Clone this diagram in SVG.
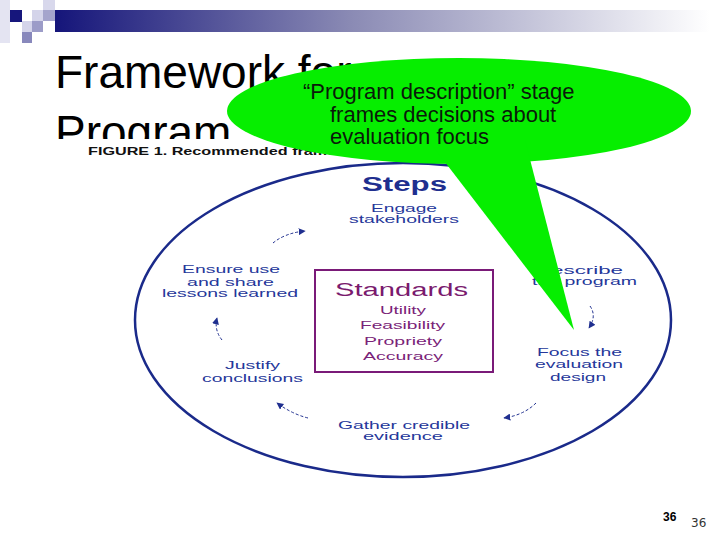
<svg xmlns="http://www.w3.org/2000/svg" width="720" height="540" viewBox="0 0 720 540">
  <style>
    .title { font-family: "Liberation Sans", Arial, sans-serif; font-size: 46px; fill: #000; }
    .cap { font-family: "Liberation Sans", Arial, sans-serif; font-size: 11px; font-weight: bold; fill: #111; }
    .step { font-family: "Liberation Sans", Arial, sans-serif; font-size: 11px; fill: #25379a; }
    .stephead { font-family: "Liberation Sans", Arial, sans-serif; font-size: 20px; font-weight: bold; fill: #1f2f8f; }
    .stdhead { font-family: "Liberation Sans", Arial, sans-serif; font-size: 18px; fill: #7a1a6e; }
    .std { font-family: "Liberation Sans", Arial, sans-serif; font-size: 11px; fill: #7a2378; }
    .call { font-family: "Liberation Sans", Arial, sans-serif; font-size: 22px; fill: #0a1a0a; }
    .conn { fill: none; stroke: #1f2f8f; stroke-width: 1; stroke-dasharray: 3 2; }
    .green { fill: #06ee00; }
  </style>
  <defs>
    <linearGradient id="bar" x1="0" y1="0" x2="1" y2="0">
      <stop offset="0" stop-color="#15157a"/>
      <stop offset="0.45" stop-color="#8a8ab4"/>
      <stop offset="1" stop-color="#ffffff"/>
    </linearGradient>
    <marker id="ah" viewBox="0 0 10 10" refX="9" refY="5" markerWidth="7" markerHeight="7" markerUnits="userSpaceOnUse" orient="auto">
      <path d="M0,0 L10,5 L0,10 Z" fill="#1f2f8f"/>
    </marker>
  </defs>
  <rect width="720" height="540" fill="#ffffff"/>

  <g id="header">
    <rect x="0" y="0" width="10" height="43" fill="#e4e4f2"/>
    <rect x="10" y="10" width="12" height="12" fill="#16167c"/>
    <rect x="32" y="10" width="11" height="11" fill="#d4d4ea"/>
    <rect x="43" y="0" width="12" height="10" fill="#d8d8ec"/>
    <rect x="43" y="10" width="12" height="11" fill="#a4a4cc"/>
    <rect x="22" y="21" width="10" height="11" fill="#d4d4ea"/>
    <rect x="32" y="21" width="11" height="11" fill="#9c9cc8"/>
    <rect x="22" y="32" width="10" height="11" fill="#8888bc"/>
    <rect x="55" y="10" width="655" height="22" fill="url(#bar)"/>
  </g>

  <g id="title">
    <text class="title" x="55" y="88">Framework for</text>
    <text class="title" x="55" y="148">Program</text>
  </g>

  <g id="figure">
    <rect x="40" y="139" width="660" height="345" fill="#ffffff"/>
    <text class="cap" x="88" y="155" textLength="286" lengthAdjust="spacingAndGlyphs">FIGURE 1. Recommended framework</text>
    <ellipse cx="403" cy="320" rx="268" ry="157" fill="none" stroke="#1a2a8a" stroke-width="2.5"/>
  </g>

  <g id="steps">
    <text class="stephead" x="362" y="191" textLength="85" lengthAdjust="spacingAndGlyphs">Steps</text>
  </g>
  <g id="engage">
    <text class="step" x="371" y="212" textLength="66" lengthAdjust="spacingAndGlyphs">Engage</text>
    <text class="step" x="349" y="223" textLength="110" lengthAdjust="spacingAndGlyphs">stakeholders</text>
  </g>
  <g id="describe">
    <text class="step" x="535" y="274" textLength="88" lengthAdjust="spacingAndGlyphs">Describe</text>
    <text class="step" x="532" y="285" textLength="105" lengthAdjust="spacingAndGlyphs">the program</text>
  </g>
  <g id="focus">
    <text class="step" x="537" y="356" textLength="85" lengthAdjust="spacingAndGlyphs">Focus the</text>
    <text class="step" x="535" y="368" textLength="88" lengthAdjust="spacingAndGlyphs">evaluation</text>
    <text class="step" x="550" y="381" textLength="56" lengthAdjust="spacingAndGlyphs">design</text>
  </g>
  <g id="gather">
    <text class="step" x="338" y="429" textLength="132" lengthAdjust="spacingAndGlyphs">Gather credible</text>
    <text class="step" x="363" y="440" textLength="80" lengthAdjust="spacingAndGlyphs">evidence</text>
  </g>
  <g id="justify">
    <text class="step" x="225" y="369" textLength="55" lengthAdjust="spacingAndGlyphs">Justify</text>
    <text class="step" x="202" y="382" textLength="101" lengthAdjust="spacingAndGlyphs">conclusions</text>
  </g>
  <g id="ensure">
    <text class="step" x="182" y="273" textLength="98" lengthAdjust="spacingAndGlyphs">Ensure use</text>
    <text class="step" x="187" y="286" textLength="87" lengthAdjust="spacingAndGlyphs">and share</text>
    <text class="step" x="162" y="297" textLength="136" lengthAdjust="spacingAndGlyphs">lessons learned</text>
  </g>

  <g id="standards">
    <rect x="315" y="270" width="178" height="102" fill="none" stroke="#7a1a78" stroke-width="2"/>
    <text class="stdhead" x="335" y="296" textLength="133" lengthAdjust="spacingAndGlyphs">Standards</text>
    <text class="std" x="380" y="314" textLength="46" lengthAdjust="spacingAndGlyphs">Utility</text>
    <text class="std" x="360" y="329" textLength="85" lengthAdjust="spacingAndGlyphs">Feasibility</text>
    <text class="std" x="364" y="345" textLength="78" lengthAdjust="spacingAndGlyphs">Propriety</text>
    <text class="std" x="363" y="360" textLength="80" lengthAdjust="spacingAndGlyphs">Accuracy</text>
  </g>

  <g id="connectors">
    <path class="conn" d="M273,243 Q285,233 305,231" marker-end="url(#ah)"/>
    <path class="conn" d="M590,306 Q597,316 589,328" marker-end="url(#ah)"/>
    <path class="conn" d="M536,403 Q524,415 504,418" marker-end="url(#ah)"/>
    <path class="conn" d="M308,418 Q292,414 277,403" marker-end="url(#ah)"/>
    <path class="conn" d="M222,340 Q214,330 217,318" marker-end="url(#ah)"/>
  </g>

  <g id="callout">
    <ellipse class="green" cx="459" cy="111" rx="232" ry="53"/>
    <polygon class="green" points="428,140 525,140 574,330"/>
    <text class="call" x="303" y="99">“Program description” stage</text>
    <text class="call" x="330" y="121.5">frames decisions about</text>
    <text class="call" x="330" y="144">evaluation focus</text>
  </g>

  <g id="pagenum">
    <text x="663" y="521" font-family="'Liberation Sans', Arial, sans-serif" font-size="12" font-weight="bold" fill="#000">36</text>
    <text x="691" y="527" font-family="'DejaVu Sans', sans-serif" font-size="12" fill="#333">36</text>
  </g>
</svg>
